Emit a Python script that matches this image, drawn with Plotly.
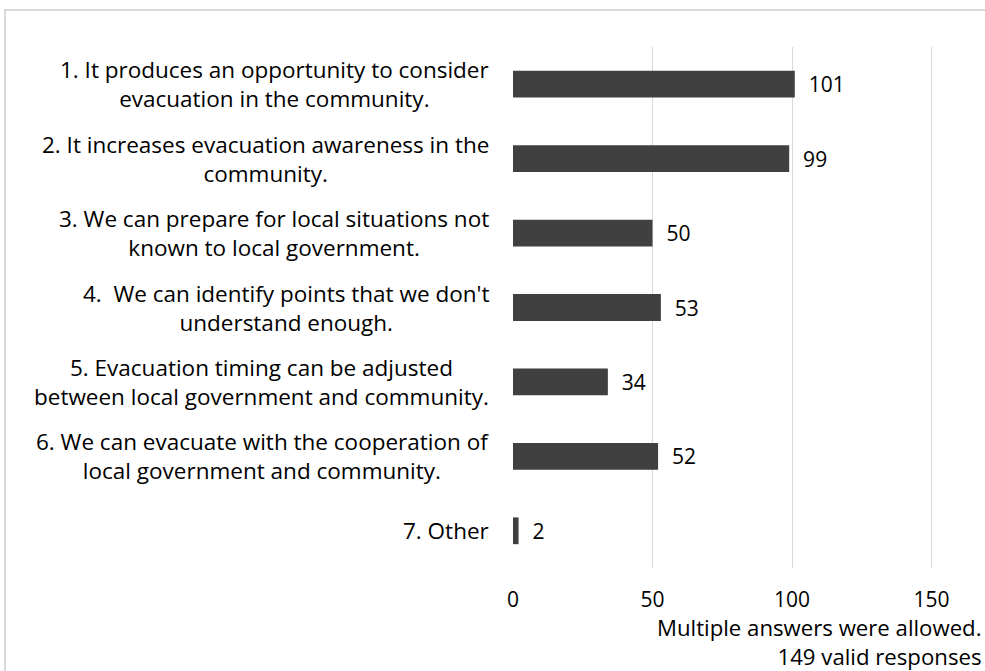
import plotly.graph_objects as go

W, H = 985, 671
L, R, T, B = 513, 0, 47, 103

categories = [
    "1. It produces an opportunity to consider<br>evacuation in the community.",
    "2. It increases evacuation awareness in the<br>community.",
    "3. We can prepare for local situations not<br>known to local government.",
    "4.  We can identify points that we don't<br>understand enough.",
    "5. Evacuation timing can be adjusted<br>between local government and community.",
    "6. We can evacuate with the cooperation of<br>local government and community.",
    "7. Other",
]
values = [101, 99, 50, 53, 34, 52, 2]
x_ticks = [0, 50, 100, 150]
notes = ["Multiple answers were allowed.", "149 valid responses"]

FONT = "Open Sans"
plot_w = W - L - R
plot_h = H - T - B


def px_x(p):
    return (p - L) / plot_w


def px_y(p):
    return 1 - (p - T) / plot_h


keys = [str(i) for i in range(len(categories))]

fig = go.Figure(
    go.Bar(
        x=values,
        y=keys,
        orientation="h",
        marker=dict(color="#404040", line=dict(width=0)),
        texttemplate="  %{x}",
        textposition="outside",
        constraintext="none",
        textfont=dict(family=FONT, size=21, color="#000000"),
        cliponaxis=False,
        width=0.36,
    )
)

annotations = []
for k, lab in zip(keys, categories):
    annotations.append(dict(
        x=px_x(491), xref="paper", y=k, yref="y",
        text=lab, showarrow=False, xanchor="right", yanchor="middle",
        align="center", font=dict(family=FONT, size=22.5, color="#000000"),
    ))
# footnote block under the axis, right aligned
annotations.append(dict(
    x=px_x(984), xref="paper", y=px_y(642), yref="paper",
    text="<br>".join(notes), showarrow=False, xanchor="right",
    yanchor="middle", align="right",
    font=dict(family=FONT, size=22.2, color="#000000"),
))

fig.update_layout(
    width=W, height=H,
    margin=dict(l=L, r=R, t=T, b=B),
    paper_bgcolor="white", plot_bgcolor="white",
    showlegend=False,
    annotations=annotations,
    shapes=[dict(
        type="rect", xref="paper", yref="paper",
        x0=px_x(5), x1=px_x(1000), y0=px_y(700), y1=px_y(10),
        line=dict(color="#d9d9d9", width=2), fillcolor="rgba(0,0,0,0)",
        layer="below",
    )],
    xaxis=dict(
        range=[0, plot_w / 2.79], tickvals=x_ticks,
        showgrid=True, gridcolor="#d9d9d9", gridwidth=1,
        zeroline=False, showline=False, ticks="",
        tickfont=dict(family=FONT, size=21, color="#000000"),
        ticklabelstandoff=17,
    ),
    yaxis=dict(
        categoryorder="array", categoryarray=keys, autorange="reversed",
        showticklabels=False, showgrid=False, zeroline=False, ticks="",
    ),
    bargap=0.64,
)

fig.write_html("out.html")
